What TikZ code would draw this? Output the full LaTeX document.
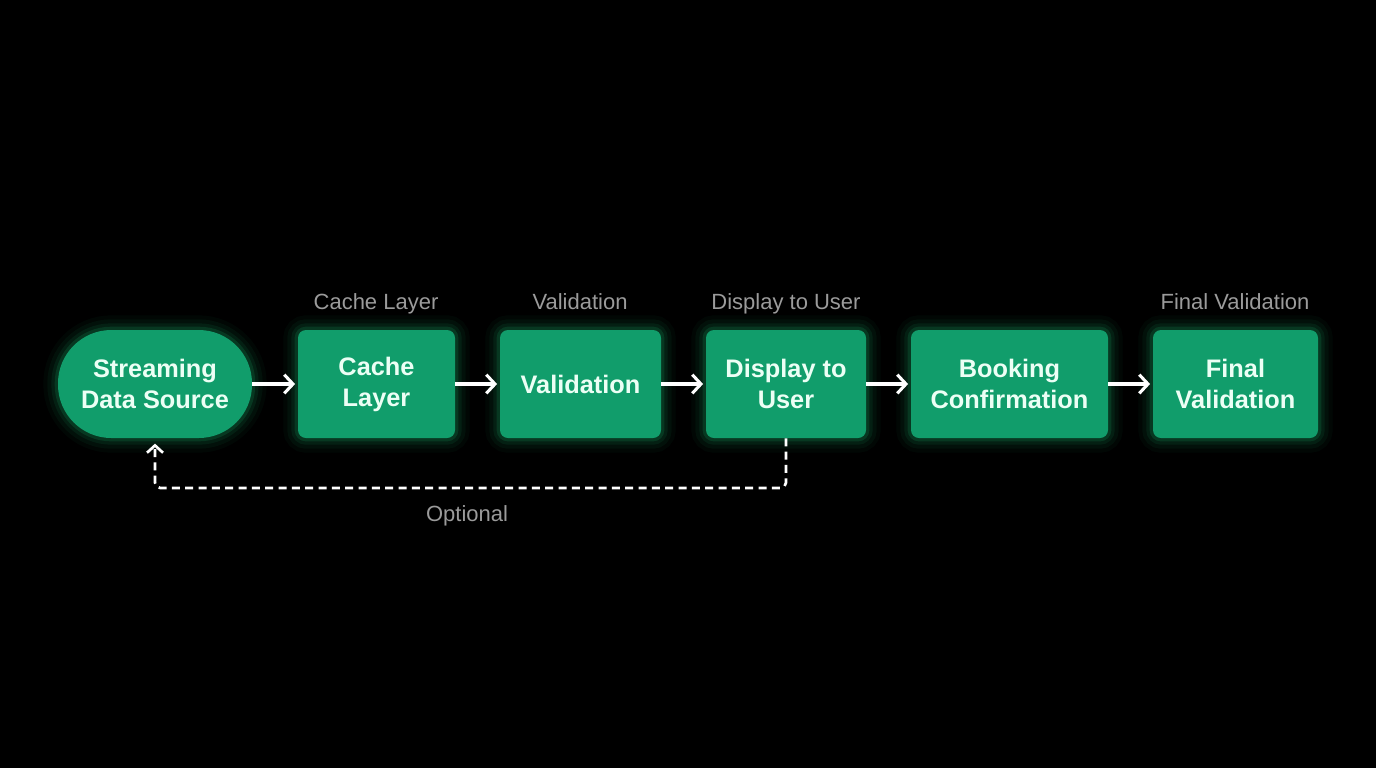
\documentclass[tikz,border=0pt]{standalone}
\usepackage{fontspec}
\setmainfont{Liberation Sans}
\usetikzlibrary{arrows.meta}
\definecolor{boxgreen}{RGB}{17,157,107}
\definecolor{glowc}{RGB}{30,220,130}
\definecolor{txtc}{RGB}{236,255,245}
\definecolor{lblc}{RGB}{155,155,155}
\tikzset{
  glow/.style={
    preaction={draw=glowc, line width=22pt, opacity=0.035},
    preaction={draw=glowc, line width=16pt, opacity=0.05},
    preaction={draw=glowc, line width=10pt, opacity=0.08},
    preaction={draw=glowc, line width=5pt, opacity=0.13}},
  stepbox/.style={glow, fill=boxgreen, rounded corners=6pt, minimum height=81pt,
    text=txtc, font=\bfseries\fontsize{19}{23.2}\selectfont, align=center, inner sep=0pt},
  pill/.style={stepbox, rounded corners=40pt},
  toplabel/.style={text=lblc, font=\fontsize{16.5}{19}\selectfont, inner sep=0pt, anchor=base},
  flow/.style={draw=white, line width=2.3pt, -{Straight Barb[length=6.5pt,width=14pt,line width=2.3pt]}, shorten >=2pt},
  backflow/.style={draw=white, line width=2pt, dash pattern=on 6pt off 4pt, rounded corners=4pt,
    -{Straight Barb[length=5.5pt,width=12pt,line width=2pt]}, shorten >=4pt}
}
\begin{document}
\begin{tikzpicture}[x=0.75pt,y=-0.75pt]
\fill[black] (0,0) rectangle (1376,768);
\useasboundingbox (0,0) rectangle (1376,768);

\node[pill, minimum width=145.5pt] (s) at (155,384) {Streaming\\Data Source};
\node[stepbox, minimum width=117.75pt] (c) at (376.5,384) {Cache\\Layer};
\node[stepbox, minimum width=120.75pt] (v) at (580.5,384) {Validation};
\node[stepbox, minimum width=120pt] (d) at (786,384) {Display to\\User};
\node[stepbox, minimum width=147.75pt] (b) at (1009.5,384) {Booking\\Confirmation};
\node[stepbox, minimum width=123.75pt] (f) at (1235.5,384) {Final\\Validation};

\node[toplabel] (lc) at (376,309) {Cache Layer};
\node[toplabel] (lv) at (580,309) {Validation};
\node[toplabel] (ld) at (786,309) {Display to User};
\node[toplabel] (lf) at (1235,309) {Final Validation};

\draw[flow] (s.east) -- (c.west);
\draw[flow] (c.east) -- (v.west);
\draw[flow] (v.east) -- (d.west);
\draw[flow] (d.east) -- (b.west);
\draw[flow] (b.east) -- (f.west);

\coordinate (k1) at (786,488);
\coordinate (k2) at (155,488);
\draw[backflow] (d.south) -- (k1) -- (k2) -- (s.south);
\node[toplabel] (opt) at (467,521) {Optional};
\end{tikzpicture}
\end{document}
